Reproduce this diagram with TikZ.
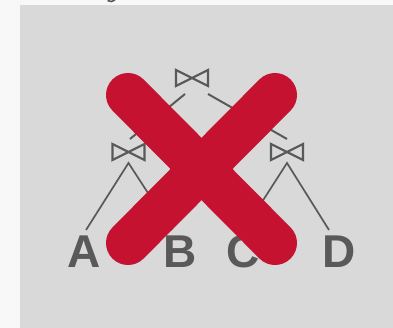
\documentclass[tikz,border=0pt]{standalone}
\usepackage{xcolor}
\usepackage{fontspec}
\usepackage{tikz}
\usetikzlibrary{positioning}
\setmainfont{Liberation Sans}

\definecolor{pagegray}{HTML}{F8F8F8}
\definecolor{panelgray}{HTML}{D9D9D9}
\definecolor{inkgray}{HTML}{595959}
\definecolor{crossred}{HTML}{C41230}

\tikzset{
  joinop/.style={minimum width=38pt, minimum height=22pt, inner sep=0pt,
    path picture={\draw[inkgray, line width=2.2pt, line join=miter, shift={(path picture bounding box.center)}]
      (-16pt,8pt) -- (16pt,-8pt) -- (16pt,8pt) -- (-16pt,-8pt) -- cycle;}},
  relation/.style={inner sep=0pt, text height=32pt, text depth=0pt, text=inkgray,
    font=\fontsize{46pt}{46pt}\selectfont\bfseries},
  link/.style={draw=inkgray, line width=2pt},
  branch/.style={draw=inkgray, line width=1.7pt},
  crossbar/.style={draw=crossred, line width=44pt, line cap=round}
}

\begin{document}
\begin{tikzpicture}[x=1pt, y=-1pt, node distance=20pt, on grid]
        \useasboundingbox (0,0) rectangle (393,328);
        \fill[pagegray] (0,0) rectangle (393,328);
        \fill[panelgray] (20,5) rectangle (393,328);
        \draw[inkgray, line width=1.6pt] (107.5,0.6) .. controls (110,2) and (113,1.8) .. (115,0);

        \node[joinop] (j1) at (192,78) {};
        \node[joinop] (j2) [below left=74pt and 63.5pt of j1] {};
        \node[joinop] (j3) [below right=74pt and 95pt of j1] {};

        \node[relation] (A) [below left=100pt and 44.5pt of j2] {A};
        \node[relation] (B) [below right=100pt and 51.5pt of j2] {B};
        \node[relation] (C) [below left=100pt and 44pt of j3] {C};
        \node[relation] (D) [below right=100pt and 52pt of j3] {D};

        \coordinate[below left=16pt and 7pt of j1] (j1l);
        \coordinate[below right=16pt and 16pt of j1] (j1r);
        \coordinate[above right=13pt and 1.5pt of j2] (j2t);
        \coordinate[above=13pt of j3] (j3t);
        \coordinate[below=11pt of j2] (j2b);
        \coordinate[below=11pt of j3] (j3b);
        \coordinate[above right=22pt and 2pt of A] (At);
        \coordinate[above left=22pt and 8pt of B] (Bt);
        \coordinate[above right=22pt and 1pt of C] (Ct);
        \coordinate[above left=22pt and 10pt of D] (Dt);

        \path[link] (j1l) -- (j2t);
        \path[link] (j1r) -- (j3t);
        \path[branch] (At) -- (j2b) -- (Bt);
        \path[branch] (Ct) -- (j3b) -- (Dt);

        \coordinate (xa) at (128,95);
        \coordinate (xb) at (275,243);
        \coordinate (xc) at (275,95);
        \coordinate (xd) at (128,243);
        \path[crossbar] (xa) -- (xb);
        \path[crossbar] (xc) -- (xd);
    \end{tikzpicture}
\end{document}
